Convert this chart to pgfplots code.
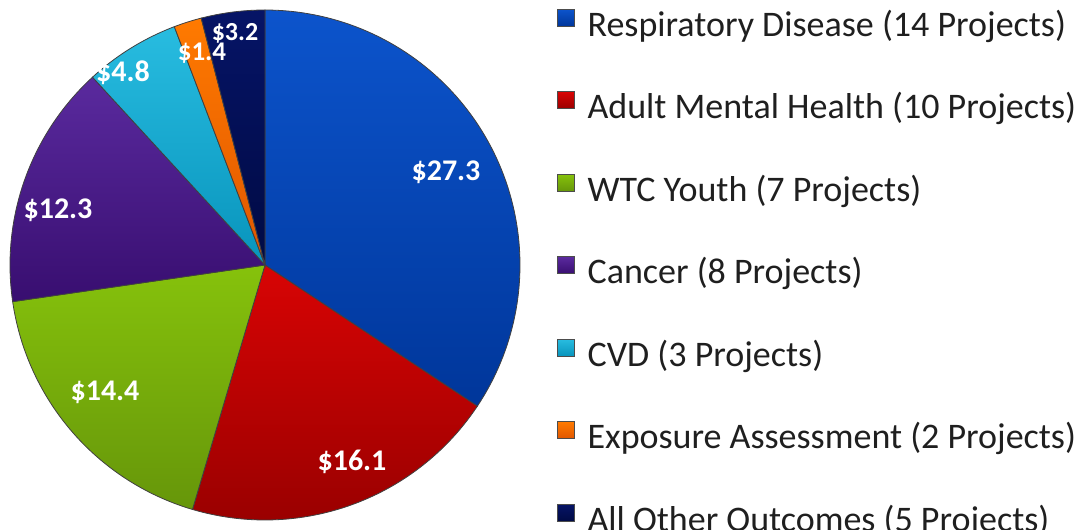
\documentclass[border=0pt]{standalone}
\usepackage{pgfplots}
\pgfplotsset{compat=1.18}
\usepackage{fontspec}
\setmainfont{Carlito}

\definecolor{cRespT}{HTML}{0C54CC}\definecolor{cRespB}{HTML}{00369A}
\definecolor{cMentT}{HTML}{D80404}\definecolor{cMentB}{HTML}{9A0000}
\definecolor{cYouthT}{HTML}{86C20C}\definecolor{cYouthB}{HTML}{66960A}
\definecolor{cCancT}{HTML}{5A2A9E}\definecolor{cCancB}{HTML}{380E70}
\definecolor{cCVDT}{HTML}{28BCE0}\definecolor{cCVDB}{HTML}{0894BC}
\definecolor{cExpT}{HTML}{FF7A00}\definecolor{cExpB}{HTML}{E05600}
\definecolor{cOthT}{HTML}{061466}\definecolor{cOthB}{HTML}{000A44}

% funding in $ millions, clockwise from 12 o'clock
\def\vA{27.3}\def\vB{16.1}\def\vC{14.4}\def\vD{12.3}\def\vE{4.8}\def\vF{1.4}\def\vG{3.2}
\pgfmathsetmacro\total{\vA+\vB+\vC+\vD+\vE+\vF+\vG}
\pgfmathsetmacro\aA{90}
\pgfmathsetmacro\aB{\aA-360*\vA/\total}
\pgfmathsetmacro\aC{\aB-360*\vB/\total}
\pgfmathsetmacro\aD{\aC-360*\vC/\total}
\pgfmathsetmacro\aE{\aD-360*\vD/\total}
\pgfmathsetmacro\aF{\aE-360*\vE/\total}
\pgfmathsetmacro\aG{\aF-360*\vF/\total}
\pgfmathsetmacro\aH{\aG-360*\vG/\total}

\begin{document}
\begin{tikzpicture}
\begin{axis}[
  width=1082pt, height=530pt, scale only axis,
  xmin=0, xmax=1082, ymin=0, ymax=530,
  hide axis, clip=false,
  legend cell align=left,
  legend image code/.code={\draw[#1, draw=black!70, line width=0.6pt] (0pt,2pt) rectangle (17pt,19pt);},
  legend style={at={(axis cs:557,521)}, anchor=north west, draw=none, fill=none,
    inner sep=0pt, outer sep=0pt, row sep=47.2pt, column sep=13pt,
    font=\fontsize{36}{40}\selectfont, text=black!88,
    nodes={inner sep=0pt, text height=24pt, text depth=8pt}},
  slice/.style={draw=black!75, line width=0.8pt, samples=90},
]
\addplot[slice, top color=cRespT, bottom color=cRespB, domain=\aB:\aA] ({265+255*cos(x)},{265+255*sin(x)}) -- (265,265) -- cycle;
\addlegendentry{Respiratory Disease (14 Projects)}
\addplot[slice, top color=cMentT, bottom color=cMentB, domain=\aC:\aB] ({265+255*cos(x)},{265+255*sin(x)}) -- (265,265) -- cycle;
\addlegendentry{Adult Mental Health (10 Projects)}
\addplot[slice, top color=cYouthT, bottom color=cYouthB, domain=\aD:\aC] ({265+255*cos(x)},{265+255*sin(x)}) -- (265,265) -- cycle;
\addlegendentry{WTC Youth (7 Projects)}
\addplot[slice, top color=cCancT, bottom color=cCancB, domain=\aE:\aD] ({265+255*cos(x)},{265+255*sin(x)}) -- (265,265) -- cycle;
\addlegendentry{Cancer (8 Projects)}
\addplot[slice, top color=cCVDT, bottom color=cCVDB, domain=\aF:\aE] ({265+255*cos(x)},{265+255*sin(x)}) -- (265,265) -- cycle;
\addlegendentry{CVD (3 Projects)}
\addplot[slice, top color=cExpT, bottom color=cExpB, domain=\aG:\aF] ({265+255*cos(x)},{265+255*sin(x)}) -- (265,265) -- cycle;
\addlegendentry{Exposure Assessment (2 Projects)}
\addplot[slice, top color=cOthT, bottom color=cOthB, domain=\aH:\aG] ({265+255*cos(x)},{265+255*sin(x)}) -- (265,265) -- cycle;
\addlegendentry{All Other Outcomes (5 Projects)}

\begin{scope}[every node/.style={text=white, font=\bfseries\fontsize{30}{32}\selectfont}]
\node at (axis cs:446,358) {\$27.3};
\node at (axis cs:352,68) {\$16.1};
\node at (axis cs:105,138) {\$14.4};
\node at (axis cs:58,320) {\$12.3};
\node at (axis cs:123,457) {\$4.8};
\node[font=\bfseries\fontsize{27}{28}\selectfont] at (axis cs:202,477) {\$1.4};
\node[font=\bfseries\fontsize{26}{28}\selectfont] at (axis cs:235,497) {\$3.2};
\end{scope}
\end{axis}
\pgfresetboundingbox
\path (current axis.south west) rectangle (current axis.north east);
\end{tikzpicture}
\end{document}
